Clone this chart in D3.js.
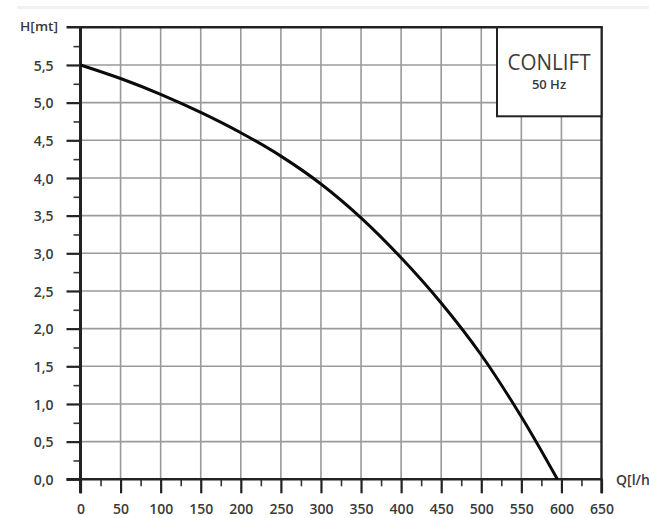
<!DOCTYPE html>
<html lang="en">
<head>
<meta charset="UTF-8">
<title>CONLIFT 50 Hz</title>
<style>
    * { margin: 0; padding: 0; }
    html, body { overflow: hidden; background: #fff; }
    text { font-family: "Open Sans", "DejaVu Sans", sans-serif; fill: #3a3a3a; }
</style>
</head>
<body>
<div id="chart"></div>
<script src="https://cdn.jsdelivr.net/npm/d3@7"></script>
<script>
    // curve
    const flow = [0, 50, 100, 150, 200, 250, 300, 350, 400, 450, 500, 550, 595]
    const head = [5.5, 5.32, 5.11, 4.87, 4.6, 4.29, 3.92, 3.47, 2.94, 2.34, 1.65, 0.83, 0]

    const xTicks = d3.range(0, 651, 50)
    const yTicks = d3.range(0, 6, 0.5)
    const xMinor = d3.range(25, 650, 50)
    const yMinor = d3.range(0.25, 6, 0.5)

    function drawChart() {
        const width = 649
        const height = 518
        const svg = d3.select('#chart')
            .append('svg')
            .attr('width', width)
            .attr('height', height)

        const x = d3.scaleLinear().domain([0, 650]).range([80.5, 601.5])
        const y = d3.scaleLinear().domain([0, 6]).range([479.3, 27.3])

        const comma = d3.formatLocale({ decimal: ',', thousands: '.', grouping: [3], currency: ['', ''] }).format('.1f')

        // faint band at the very top
        svg.append('rect')
            .attr('x', 17).attr('y', 6)
            .attr('width', width - 17).attr('height', 3)
            .attr('fill', '#f1f1ef')

        // grid
        svg.append('g')
            .selectAll('line')
            .data(xTicks.slice(1, -1))
            .join('line')
            .attr('x1', d => x(d)).attr('x2', d => x(d))
            .attr('y1', y(6)).attr('y2', y(0))
            .attr('stroke', '#9a9a9a').attr('stroke-width', 1.6)
        svg.append('g')
            .selectAll('line')
            .data(yTicks.slice(1))
            .join('line')
            .attr('x1', x(0)).attr('x2', x(650))
            .attr('y1', d => y(d)).attr('y2', d => y(d))
            .attr('stroke', '#9a9a9a').attr('stroke-width', 1.6)

        // y axis, major + minor ticks
        const yAxis = svg.append('g')
            .attr('transform', `translate(${x(0)},0)`)
            .call(d3.axisLeft(y).tickValues(yTicks).tickSize(14).tickPadding(13).tickFormat(comma))
        yAxis.select('.domain').remove()
        yAxis.selectAll('line').attr('stroke', '#222').attr('stroke-width', 2.2)
        yAxis.selectAll('text')
            .style('font-size', '14px').style('font-weight', 600)
            .attr('fill', '#3a3a3a').attr('dy', '0.36em')

        const yAxisMinor = svg.append('g')
            .attr('transform', `translate(${x(0)},0)`)
            .call(d3.axisLeft(y).tickValues(yMinor).tickSize(7).tickFormat(''))
        yAxisMinor.select('.domain').remove()
        yAxisMinor.selectAll('line').attr('stroke', '#333').attr('stroke-width', 1.6)

        // x axis, major + minor ticks
        const xAxis = svg.append('g')
            .attr('transform', `translate(0,${y(0)})`)
            .call(d3.axisBottom(x).tickValues(xTicks).tickSize(14).tickPadding(11))
        xAxis.select('.domain').remove()
        xAxis.selectAll('line').attr('stroke', '#222').attr('stroke-width', 2.2)
        xAxis.selectAll('text')
            .style('font-size', '14px').style('font-weight', 600)
            .attr('fill', '#3a3a3a')

        const xAxisMinor = svg.append('g')
            .attr('transform', `translate(0,${y(0)})`)
            .call(d3.axisBottom(x).tickValues(xMinor).tickSize(7).tickFormat(''))
        xAxisMinor.select('.domain').remove()
        xAxisMinor.selectAll('line').attr('stroke', '#333').attr('stroke-width', 1.6)

        // frame lines
        svg.append('line')
            .attr('x1', x(0)).attr('x2', x(0)).attr('y1', y(6) - 1).attr('y2', y(0) + 14)
            .attr('stroke', '#222').attr('stroke-width', 3)
        svg.append('line')
            .attr('x1', x(650)).attr('x2', x(650)).attr('y1', y(6) - 1).attr('y2', y(0) + 14)
            .attr('stroke', '#222').attr('stroke-width', 2.4)
        svg.append('line')
            .attr('x1', x(0) - 14).attr('x2', x(650) + 1).attr('y1', y(0)).attr('y2', y(0))
            .attr('stroke', '#222').attr('stroke-width', 2.6)
        svg.append('line')
            .attr('x1', x(0) - 14).attr('x2', x(650) + 1).attr('y1', y(6)).attr('y2', y(6))
            .attr('stroke', '#222').attr('stroke-width', 2.6)

        // pump curve
        const line = d3.line()
            .x((d, i) => x(flow[i]))
            .y(d => y(d))
            .curve(d3.curveCatmullRom.alpha(0.5))
        svg.append('path')
            .datum(head)
            .attr('d', line)
            .attr('fill', 'none')
            .attr('stroke', '#0a0a0a')
            .attr('stroke-width', 3)

        // legend box
        svg.append('rect')
            .attr('x', 497).attr('y', y(6))
            .attr('width', x(650) - 497).attr('height', 89)
            .attr('fill', '#fff')
            .attr('stroke', '#222').attr('stroke-width', 2)
        svg.append('text')
            .attr('x', 549).attr('y', 70)
            .attr('text-anchor', 'middle')
            .attr('textLength', 83).attr('lengthAdjust', 'spacingAndGlyphs')
            .style('font-size', '22px').style('font-weight', 500)
            .attr('fill', '#2a2a2a')
            .text('CONLIFT')
        svg.append('text')
            .attr('x', 549).attr('y', 89)
            .attr('text-anchor', 'middle')
            .style('font-size', '13px').style('font-weight', 600)
            .text('50 Hz')

        // axis titles
        svg.append('text')
            .attr('x', 20).attr('y', 31)
            .attr('textLength', 38).attr('lengthAdjust', 'spacingAndGlyphs')
            .style('font-size', '13px').style('font-weight', 600)
            .text('H[mt]')
        // the reference clips this at the right edge
        svg.append('text')
            .attr('x', 616).attr('y', 485)
            .style('font-size', '14px').style('font-weight', 600)
            .text('Q[l/h]')
    }

    drawChart()
</script>
</body>
</html>
